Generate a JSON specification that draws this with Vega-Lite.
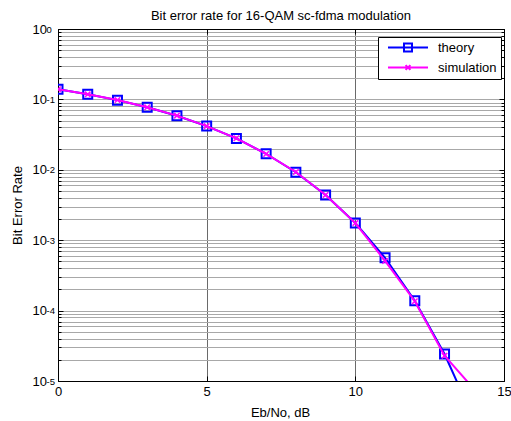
{
  "$schema": "https://vega.github.io/schema/vega-lite/v6.json",
  "width": 446,
  "height": 352,
  "autosize": {"type": "none"},
  "padding": {"left": 58, "top": 29, "right": 7, "bottom": 40},
  "background": "white",
  "title": {
    "text": "Bit error rate for  16-QAM sc-fdma modulation",
    "font": "Liberation Sans",
    "fontSize": 13,
    "fontWeight": "normal",
    "color": "black",
    "anchor": "middle",
    "offset": 0
  },
  "config": {
    "view": {"stroke": "black", "strokeWidth": 1},
    "font": "Liberation Sans",
    "axis": {
      "labelFont": "Liberation Sans",
      "labelFontSize": 13,
      "labelColor": "black",
      "titleFont": "Liberation Sans",
      "titleFontSize": 13,
      "titleFontWeight": "normal",
      "titleColor": "black",
      "domainColor": "black",
      "tickColor": "black",
      "labelFlush": false,
      "labelOverlap": false,
      "labelBound": false
    }
  },
  "data": {
    "values": [
      {"ebno": 0, "ber": 0.1392, "series": "theory"},
      {"ebno": 1, "ber": 0.1183, "series": "theory"},
      {"ebno": 2, "ber": 0.0976, "series": "theory"},
      {"ebno": 3, "ber": 0.0774, "series": "theory"},
      {"ebno": 4, "ber": 0.0586, "series": "theory"},
      {"ebno": 5, "ber": 0.0418, "series": "theory"},
      {"ebno": 6, "ber": 0.0279, "series": "theory"},
      {"ebno": 7, "ber": 0.0169, "series": "theory"},
      {"ebno": 8, "ber": 0.00924, "series": "theory"},
      {"ebno": 9, "ber": 0.00439, "series": "theory"},
      {"ebno": 10, "ber": 0.001754, "series": "theory"},
      {"ebno": 11, "ber": 0.000563, "series": "theory"},
      {"ebno": 12, "ber": 0.000138, "series": "theory"},
      {"ebno": 13, "ber": 0.0000242, "series": "theory"},
      {"ebno": 14, "ber": 0.00000276, "series": "theory"},
      {"ebno": 15, "ber": 0.000000184, "series": "theory"},
      {"ebno": 0, "ber": 0.1395, "series": "simulation"},
      {"ebno": 1, "ber": 0.118, "series": "simulation"},
      {"ebno": 2, "ber": 0.0978, "series": "simulation"},
      {"ebno": 3, "ber": 0.0772, "series": "simulation"},
      {"ebno": 4, "ber": 0.0588, "series": "simulation"},
      {"ebno": 5, "ber": 0.0417, "series": "simulation"},
      {"ebno": 6, "ber": 0.028, "series": "simulation"},
      {"ebno": 7, "ber": 0.0168, "series": "simulation"},
      {"ebno": 8, "ber": 0.0093, "series": "simulation"},
      {"ebno": 9, "ber": 0.0044, "series": "simulation"},
      {"ebno": 10, "ber": 0.00175, "series": "simulation"},
      {"ebno": 11, "ber": 0.000507, "series": "simulation"},
      {"ebno": 12, "ber": 0.000136, "series": "simulation"},
      {"ebno": 13, "ber": 0.0000229, "series": "simulation"},
      {"ebno": 14, "ber": 0.0000076, "series": "simulation"}
    ]
  },
  "layer": [
    {
      "transform": [{"filter": "datum.series === 'theory'"}],
      "mark": {"type": "line", "strokeWidth": 2, "clip": true},
      "encoding": {
        "x": {
          "field": "ebno", "type": "quantitative",
          "scale": {"domain": [0, 15], "nice": false, "zero": false},
          "axis": {
            "orient": "bottom",
            "values": [0, 5, 10, 15],
            "grid": true,
            "gridColor": "#6a6a6a",
            "gridWidth": 1,
            "tickSize": -5,
            "labelPadding": 9,
            "title": "Eb/No, dB",
            "titleX": 222,
            "titleY": 35,
            "titleAlign": "center",
            "titleBaseline": "alphabetic"
          }
        },
        "y": {
          "field": "ber", "type": "quantitative",
          "scale": {"type": "log", "domain": [0.00001, 1], "nice": false},
          "axis": {
            "orient": "left",
            "values": [0.00001, 0.00002, 0.00003, 0.00004, 0.00005, 0.00006, 0.00007, 0.00008, 0.00009,
                       0.0001, 0.0002, 0.0003, 0.0004, 0.0005, 0.0006, 0.0007, 0.0008, 0.0009,
                       0.001, 0.002, 0.003, 0.004, 0.005, 0.006, 0.007, 0.008, 0.009,
                       0.01, 0.02, 0.03, 0.04, 0.05, 0.06, 0.07, 0.08, 0.09,
                       0.1, 0.2, 0.3, 0.4, 0.5, 0.6, 0.7, 0.8, 0.9, 1],
            "grid": true,
            "gridColor": "#a8a8a8",
            "gridWidth": 1,
            "tickSize": {"condition": {"test": "abs(log(datum.value)/LN10 - round(log(datum.value)/LN10)) < 0.001", "value": -5}, "value": -3},
            "labelAlign": "left",
            "labelBaseline": "middle",
            "labelPadding": 31,
            "labelExpr": "abs(log(datum.value)/LN10 - round(log(datum.value)/LN10)) > 0.001 ? '' : '10'",
            "title": "Bit Error Rate",
            "titleX": -37,
            "titleY": 176,
            "titleAngle": -90,
            "titleAlign": "center",
            "titleBaseline": "alphabetic"
          }
        },
        "color": {
          "field": "series", "type": "nominal",
          "scale": {"domain": ["theory", "simulation"], "range": ["#0000ff", "#ff00ff"]},
          "legend": {
            "orient": "none",
            "legendX": 320,
            "legendY": 8,
            "title": null,
            "strokeColor": "black",
            "fillColor": "white",
            "padding": 4,
            "symbolOffset": 5,
            "labelOffset": 9,
            "clipHeight": 13,
            "rowPadding": 6,
            "labelFont": "Liberation Sans",
            "labelFontSize": 13,
            "labelColor": "black",
            "symbolSize": 1600,
            "symbolStrokeWidth": 2,
            "encode": {
              "symbols": {
                "update": {
                  "shape": {"signal": "datum.value === 'theory' ? 'M-1,0H1M-0.2,-0.2H0.2V0.2H-0.2Z' : 'M-1,0H1M-0.12,-0.12L0.12,0.12M-0.12,0.12L0.12,-0.12'"},
                  "fill": {"value": "transparent"},
                  "strokeWidth": {"value": 2},
                  "size": {"value": 1600},
                  "opacity": {"value": 1}
                }
              }
            }
          }
        }
      }
    },
    {
      "transform": [{"filter": "datum.series === 'theory'"}],
      "mark": {"type": "point", "shape": "square", "filled": false, "size": 81, "strokeWidth": 2, "opacity": 1, "clip": true},
      "encoding": {
        "x": {"field": "ebno", "type": "quantitative", "axis": null},
        "y": {
          "field": "ber", "type": "quantitative",
          "axis": {
            "orient": "left",
            "values": [0.00001, 0.0001, 0.001, 0.01, 0.1, 1],
            "grid": false,
            "ticks": false,
            "domain": false,
            "labelAlign": "left",
            "labelBaseline": "middle",
            "labelFontSize": 9.5,
            "labelDy": -8,
            "labelPadding": 12,
            "labelExpr": "'' + round(log(datum.value)/LN10)",
            "title": null
          }
        },
        "color": {"field": "series", "type": "nominal"}
      }
    },
    {
      "transform": [{"filter": "datum.series === 'simulation'"}],
      "mark": {"type": "line", "strokeWidth": 2, "clip": true},
      "encoding": {
        "x": {"field": "ebno", "type": "quantitative", "axis": null},
        "y": {"field": "ber", "type": "quantitative", "axis": null},
        "color": {"field": "series", "type": "nominal"}
      }
    },
    {
      "transform": [{"filter": "datum.series === 'simulation'"}],
      "mark": {"type": "point", "shape": "M-1,-1L1,1M-1,1L1,-1", "filled": false, "size": 30, "strokeWidth": 1.5, "opacity": 1, "clip": true},
      "encoding": {
        "x": {
          "field": "ebno", "type": "quantitative",
          "axis": {"orient": "top", "values": [0, 5, 10, 15], "labels": false, "grid": false, "tickSize": -5, "title": null}
        },
        "y": {
          "field": "ber", "type": "quantitative",
          "axis": {
            "orient": "right",
            "values": [0.00001, 0.00002, 0.00003, 0.00004, 0.00005, 0.00006, 0.00007, 0.00008, 0.00009,
                       0.0001, 0.0002, 0.0003, 0.0004, 0.0005, 0.0006, 0.0007, 0.0008, 0.0009,
                       0.001, 0.002, 0.003, 0.004, 0.005, 0.006, 0.007, 0.008, 0.009,
                       0.01, 0.02, 0.03, 0.04, 0.05, 0.06, 0.07, 0.08, 0.09,
                       0.1, 0.2, 0.3, 0.4, 0.5, 0.6, 0.7, 0.8, 0.9, 1],
            "labels": false,
            "grid": false,
            "tickSize": {"condition": {"test": "abs(log(datum.value)/LN10 - round(log(datum.value)/LN10)) < 0.001", "value": -5}, "value": -3},
            "title": null
          }
        },
        "color": {"field": "series", "type": "nominal"}
      }
    }
  ],
  "resolve": {"axis": {"x": "independent", "y": "independent"}}
}
